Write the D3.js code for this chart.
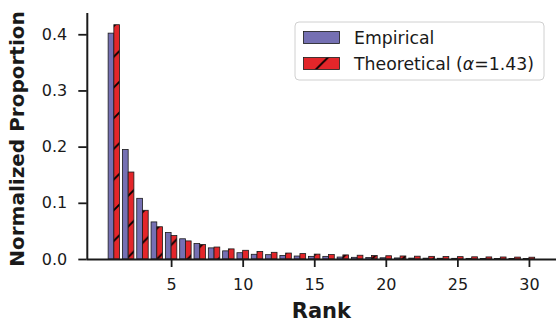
<!DOCTYPE html>
<html>
<head>
<meta charset="utf-8">
<script src="https://cdn.jsdelivr.net/npm/d3@7"></script>
<style>
  html, body { margin: 0; padding: 0; background: #fff; }
  svg { display: block; }
  text { font-family: "DejaVu Sans", sans-serif; fill: #1a1a1a; }
</style>
</head>
<body>
<svg id="chart" width="557" height="323"></svg>
<script>
// ---- data ----
const ranks = d3.range(1, 31);
const empirical = [0.402, 0.195, 0.108, 0.066, 0.047, 0.036, 0.0275, 0.0198, 0.0145, 0.0112,
                   0.0084, 0.0077, 0.0064, 0.0053, 0.0047, 0.0047, 0.0035, 0.0030, 0.0025, 0.0022,
                   0.0019, 0.0016, 0.0015, 0.0013, 0.0012, 0.0011, 0.0010, 0.0009, 0.0008, 0.0008];
const theoretical = [0.417, 0.1548, 0.0867, 0.0574, 0.0417, 0.0322, 0.0258, 0.0213, 0.0180, 0.0155,
                     0.0135, 0.0119, 0.0106, 0.0096, 0.0087, 0.0079, 0.0073, 0.0067, 0.0062, 0.0058,
                     0.0054, 0.0050, 0.0047, 0.0044, 0.0042, 0.0039, 0.0037, 0.0036, 0.0034, 0.0032];
const xTicks = [5, 10, 15, 20, 25, 30];
const yTicks = [0.0, 0.1, 0.2, 0.3, 0.4];
const seriesNames = ["Empirical", "Theoretical"];
const alphaLabel = "1.43";
const colors = ["#7570b3", "#e3262a"];
const barW = 0.4;

const svg = d3.select("#chart");
const P = 30.7, phase = 17;

// hatch pattern
const defs = svg.append("defs");
const pat = defs.append("pattern").attr("id", "hatch")
  .attr("patternUnits", "userSpaceOnUse")
  .attr("x", phase).attr("y", 0).attr("width", P).attr("height", P);
pat.append("rect").attr("width", P).attr("height", P).attr("fill", colors[1]);
pat.append("path")
  .attr("d", `M0,${P} L${P},0 M-2,2 L2,-2 M${P-2},${P+2} L${P+2},${P-2}`)
  .attr("stroke", "#000").attr("stroke-width", 1.9);

const mLeft = 86.8, mRight = 556, mTop = 13, mBottom = 259;
const xMin = 1 - barW - 0.05 * (29 + 2 * barW), xMax = 30 + barW + 0.05 * (29 + 2 * barW);
const x = d3.scaleLinear().domain([xMin, xMax]).range([mLeft, mRight]);
const yMax = 1.05 * d3.max(theoretical.concat(empirical));
const y = d3.scaleLinear().domain([0, yMax]).range([mBottom, mTop]);

// bars
svg.append("g").selectAll("rect").data(ranks).join("rect")
  .attr("x", (r) => x(r - barW))
  .attr("width", (r) => x(r) - x(r - barW))
  .attr("y", (r, i) => y(empirical[i]))
  .attr("height", (r, i) => y(0) - y(empirical[i]))
  .attr("fill", colors[0]).attr("stroke", "#1a1a1a").attr("stroke-width", 0.8);

svg.append("g").selectAll("rect").data(ranks).join("rect")
  .attr("x", (r) => x(r))
  .attr("width", (r) => x(r + barW) - x(r))
  .attr("y", (r, i) => y(theoretical[i]))
  .attr("height", (r, i) => y(0) - y(theoretical[i]))
  .attr("fill", "url(#hatch)").attr("stroke", "#1a1a1a").attr("stroke-width", 0.8);

// axes
const xAxis = svg.append("g").attr("transform", `translate(0,${mBottom})`)
  .call(d3.axisBottom(x).tickValues(xTicks).tickFormat(d3.format("d")).tickSize(8).tickPadding(12));
const yAxis = svg.append("g").attr("transform", `translate(${mLeft},0)`)
  .call(d3.axisLeft(y).tickValues(yTicks).tickFormat(d3.format(".1f")).tickSize(8.5).tickPadding(11));
[xAxis, yAxis].forEach(g => {
  g.select(".domain").attr("stroke", "#1a1a1a").attr("stroke-width", 2);
  g.selectAll(".tick line").attr("stroke", "#1a1a1a").attr("stroke-width", 1.8);
  g.selectAll(".tick text").attr("font-size", 16).attr("fill", "#1a1a1a")
    .attr("font-family", "DejaVu Sans");
});
xAxis.select(".domain").attr("d", `M${mLeft},0.5H${mRight}`);
yAxis.select(".domain").attr("d", `M0.5,${mTop}V${mBottom}`);

// axis labels
svg.append("text").attr("x", (mLeft + mRight) / 2).attr("y", 317.5)
  .attr("text-anchor", "middle").attr("font-size", 21).attr("font-weight", "bold").text("Rank");
svg.append("text").attr("transform", `translate(24,${(mTop + mBottom) / 2 + 3}) rotate(-90)`)
  .attr("text-anchor", "middle").attr("font-size", 20).attr("font-weight", "bold")
  .text("Normalized Proportion");

// legend
const lg = svg.append("g");
lg.append("rect").attr("x", 295).attr("y", 22).attr("width", 249).attr("height", 58)
  .attr("rx", 4).attr("fill", "#fff").attr("fill-opacity", 0.8)
  .attr("stroke", "#d0d0d0").attr("stroke-width", 1);
const fills = [colors[0], "url(#hatch)"];
seriesNames.forEach((name, i) => {
  const yy = 31.5 + i * 26;
  lg.append("rect").attr("x", 303.5).attr("y", yy).attr("width", 36).attr("height", 12)
    .attr("fill", fills[i]).attr("stroke", "#1a1a1a").attr("stroke-width", 0.8);
  const t = lg.append("text").attr("x", 354).attr("y", yy + 12).attr("font-size", 17.3);
  t.append("tspan").text(name);
  if (i === 1) {
    t.append("tspan").text(" (");
    t.append("tspan").attr("font-style", "italic").text("α");
    t.append("tspan").text("=" + alphaLabel + ")");
  }
});
</script>
</body>
</html>
